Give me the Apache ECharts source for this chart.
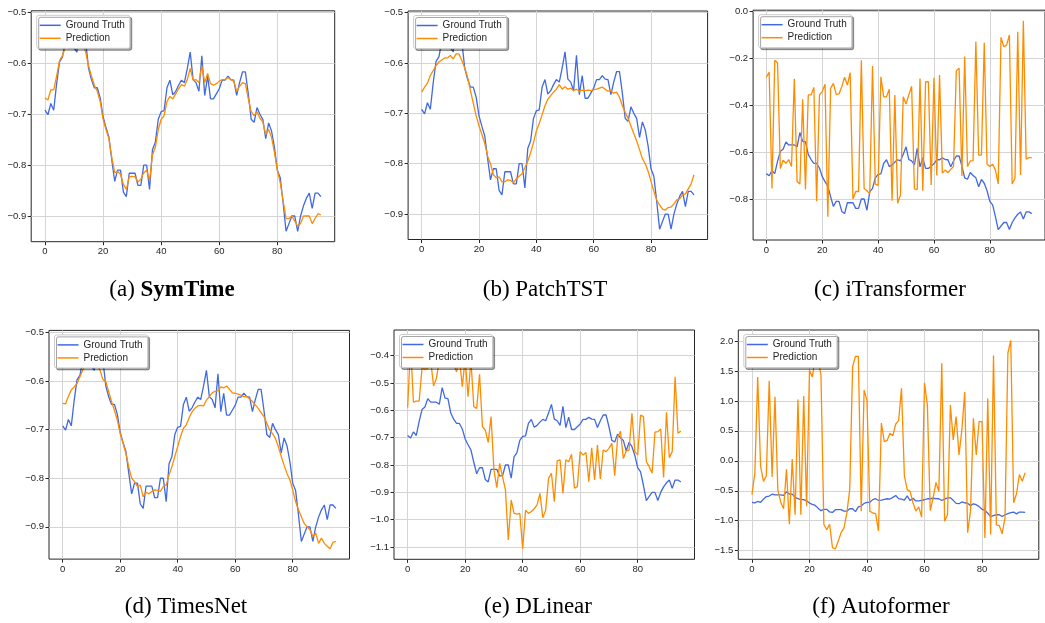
<!DOCTYPE html>
<html>
<head>
<meta charset="utf-8">
<script src="https://cdn.jsdelivr.net/npm/echarts@6/dist/echarts.min.js"></script>
<style>
html, body { margin: 0; padding: 0; background: #fff; }
#main { width: 1045px; height: 623px; }
</style>
</head>
<body>
<div id="main"></div>
<script>
// 时间步 0..95
var steps = [];
for (var i = 0; i < 96; i++) steps.push(i);

var xTicks = [0, 20, 40, 60, 80];

// 真实值（六个子图共用）
var groundTruth = [-0.692,-0.701,-0.679,-0.692,-0.64,-0.597,-0.588,-0.557,-0.57,-0.57,
    -0.57,-0.578,-0.517,-0.555,-0.557,-0.61,-0.632,-0.648,-0.648,-0.668,
    -0.705,-0.726,-0.745,-0.79,-0.832,-0.81,-0.81,-0.853,-0.862,-0.816,
    -0.816,-0.816,-0.84,-0.84,-0.8,-0.8,-0.848,-0.77,-0.755,-0.71,
    -0.695,-0.693,-0.648,-0.633,-0.662,-0.655,-0.643,-0.633,-0.638,-0.61,
    -0.578,-0.632,-0.638,-0.655,-0.585,-0.663,-0.625,-0.67,-0.67,-0.66,
    -0.65,-0.633,-0.633,-0.625,-0.632,-0.633,-0.663,-0.638,-0.617,-0.617,
    -0.66,-0.71,-0.716,-0.687,-0.7,-0.71,-0.748,-0.717,-0.733,-0.765,
    -0.81,-0.825,-0.875,-0.93,-0.915,-0.9,-0.9,-0.93,-0.9,-0.88,
    -0.865,-0.855,-0.885,-0.855,-0.855,-0.862];

var predSymTime = [-0.668,-0.672,-0.652,-0.652,-0.625,-0.595,-0.585,-0.568,-0.555,-0.55,
    -0.552,-0.556,-0.545,-0.56,-0.578,-0.605,-0.625,-0.643,-0.655,-0.675,
    -0.71,-0.73,-0.748,-0.785,-0.815,-0.812,-0.818,-0.838,-0.848,-0.823,
    -0.822,-0.823,-0.833,-0.828,-0.815,-0.81,-0.83,-0.78,-0.765,-0.73,
    -0.71,-0.703,-0.675,-0.665,-0.67,-0.66,-0.65,-0.642,-0.645,-0.632,
    -0.61,-0.633,-0.632,-0.638,-0.605,-0.638,-0.62,-0.64,-0.643,-0.64,
    -0.635,-0.632,-0.632,-0.628,-0.632,-0.635,-0.655,-0.645,-0.638,-0.64,
    -0.67,-0.695,-0.703,-0.695,-0.708,-0.715,-0.74,-0.73,-0.745,-0.775,
    -0.81,-0.835,-0.87,-0.905,-0.905,-0.9,-0.91,-0.92,-0.915,-0.9,
    -0.9,-0.9,-0.915,-0.905,-0.895,-0.898];

var predPatchTST = [-0.658,-0.648,-0.64,-0.625,-0.615,-0.605,-0.598,-0.594,-0.59,-0.59,
    -0.585,-0.592,-0.582,-0.582,-0.595,-0.61,-0.628,-0.655,-0.68,-0.705,
    -0.725,-0.742,-0.76,-0.785,-0.8,-0.822,-0.828,-0.826,-0.836,-0.836,
    -0.832,-0.833,-0.838,-0.83,-0.825,-0.82,-0.808,-0.795,-0.778,-0.758,
    -0.735,-0.72,-0.703,-0.685,-0.672,-0.665,-0.658,-0.652,-0.643,-0.652,
    -0.647,-0.652,-0.65,-0.655,-0.652,-0.656,-0.654,-0.655,-0.654,-0.655,
    -0.653,-0.652,-0.65,-0.648,-0.652,-0.656,-0.655,-0.66,-0.658,-0.668,
    -0.685,-0.698,-0.71,-0.725,-0.74,-0.755,-0.772,-0.79,-0.8,-0.815,
    -0.835,-0.855,-0.872,-0.882,-0.89,-0.892,-0.887,-0.886,-0.88,-0.872,
    -0.87,-0.862,-0.86,-0.85,-0.84,-0.822];

var predITransformer = [-0.282,-0.26,-0.755,-0.21,-0.22,-0.67,-0.635,-0.648,-0.632,-0.662,
    -0.288,-0.726,-0.736,-0.376,-0.76,-0.357,-0.357,-0.325,-0.81,-0.357,
    -0.343,-0.312,-0.875,-0.329,-0.308,-0.355,-0.353,-0.322,-0.282,-0.315,
    -0.262,-0.80,-0.768,-0.768,-0.21,-0.755,-0.765,-0.778,-0.234,-0.737,
    -0.742,-0.28,-0.365,-0.365,-0.333,-0.807,-0.357,-0.818,-0.783,-0.365,
    -0.396,-0.357,-0.32,-0.757,-0.76,-0.287,-0.765,-0.301,-0.301,-0.74,
    -0.284,-0.70,-0.272,-0.69,-0.677,-0.688,-0.674,-0.662,-0.254,-0.244,
    -0.702,-0.194,-0.662,-0.638,-0.637,-0.13,-0.613,-0.613,-0.135,-0.651,
    -0.662,-0.652,-0.677,-0.736,-0.112,-0.152,-0.145,-0.102,-0.736,-0.712,
    -0.088,-0.698,-0.041,-0.63,-0.624,-0.624];

var predTimesNet = [-0.646,-0.647,-0.631,-0.618,-0.612,-0.605,-0.591,-0.577,-0.565,-0.56,
    -0.556,-0.56,-0.565,-0.578,-0.597,-0.601,-0.622,-0.642,-0.66,-0.68,
    -0.708,-0.728,-0.749,-0.777,-0.80,-0.807,-0.817,-0.814,-0.838,-0.829,
    -0.832,-0.827,-0.824,-0.825,-0.827,-0.817,-0.814,-0.793,-0.776,-0.755,
    -0.735,-0.714,-0.697,-0.69,-0.675,-0.663,-0.656,-0.651,-0.65,-0.651,
    -0.639,-0.632,-0.624,-0.621,-0.62,-0.612,-0.614,-0.61,-0.617,-0.624,
    -0.625,-0.627,-0.629,-0.632,-0.632,-0.636,-0.642,-0.649,-0.656,-0.665,
    -0.673,-0.687,-0.701,-0.708,-0.718,-0.735,-0.755,-0.773,-0.79,-0.803,
    -0.824,-0.848,-0.865,-0.879,-0.893,-0.90,-0.906,-0.92,-0.913,-0.934,
    -0.923,-0.934,-0.94,-0.945,-0.932,-0.93];

var predDLinear = [-0.59,-0.36,-0.57,-0.566,-0.566,-0.444,-0.449,-0.446,-0.416,-0.511,
    -0.483,-0.416,-0.40,-0.38,-0.42,-0.40,-0.432,-0.459,-0.41,-0.513,
    -0.41,-0.55,-0.416,-0.587,-0.593,-0.468,-0.66,-0.672,-0.717,-0.623,
    -0.818,-0.883,-0.794,-0.843,-0.891,-1.074,-0.928,-0.977,-0.98,-0.977,
    -1.107,-0.965,-0.977,-0.97,-0.96,-0.946,-0.904,-0.993,-0.965,-0.849,
    -0.83,-0.934,-0.785,-0.781,-0.904,-0.781,-0.788,-0.761,-0.885,-0.879,
    -0.751,-0.763,-0.754,-0.861,-0.737,-0.855,-0.727,-0.851,-0.745,-0.751,
    -0.739,-0.721,-0.839,-0.702,-0.676,-0.776,-0.749,-0.745,-0.611,-0.751,
    -0.763,-0.617,-0.623,-0.788,-0.806,-0.83,-0.68,-0.678,-0.668,-0.846,
    -0.607,-0.773,-0.751,-0.477,-0.684,-0.676];

var predAutoformer = [-0.565,-0.205,1.40,-0.094,-0.343,-0.25,1.335,-0.27,1.07,-0.49,
    -0.69,-0.80,-0.14,-1.06,0.03,-0.90,1.025,-0.90,1.08,-0.76,
    1.51,1.40,1.72,1.70,1.43,-1.06,-1.15,-1.06,-1.45,-1.47,
    -1.34,-1.20,-1.12,-0.87,-0.48,1.57,1.745,1.745,-0.84,1.18,
    1.01,-0.84,-0.87,-0.88,-1.17,0.63,0.32,0.34,0.46,0.42,
    0.615,0.67,1.21,-0.25,-0.48,-0.51,-0.70,-0.84,-0.77,-0.94,
    1.30,0.93,-0.83,-0.62,-0.36,-0.51,1.63,-1.01,-0.90,0.93,
    0.35,0.74,0.10,0.52,1.15,-1.20,-0.84,0.71,0.10,0.655,
    0.655,-1.29,1.04,-1.23,1.76,-1.07,-1.08,-1.22,-0.95,1.80,
    2.01,-0.70,-0.55,-0.23,-0.34,-0.20];

// 各子图 y 轴刻度
var yTicksA = [-0.9, -0.8, -0.7, -0.6, -0.5];
var yTicksC = [-0.8, -0.6, -0.4, -0.2, 0.0];
var yTicksE = [-1.1, -1.0, -0.9, -0.8, -0.7, -0.6, -0.5, -0.4];
var yTicksF = [-1.5, -1.0, -0.5, 0.0, 0.5, 1.0, 1.5, 2.0];

var preds = [predSymTime, predPatchTST, predITransformer, predTimesNet, predDLinear, predAutoformer];
var yTicks = [yTicksA, yTicksA, yTicksC, yTicksA, yTicksE, yTicksF];

// 布局（像素）和坐标范围
var panels = [
    { left: 31.2, top: 10.8, width: 303.5, height: 230.9, ymin: -0.9505, ymax: -0.4968, tx: 172, ty: 290 },
    { left: 408.1, top: 11.0, width: 299.5, height: 228.5, ymin: -0.9505, ymax: -0.4968, tx: 545, ty: 290 },
    { left: 753.1, top: 10.2, width: 299.5, height: 229.8, ymin: -0.9745, ymax: 0.0035, tx: 890, ty: 290 },
    { left: 49.0, top: 330.4, width: 300.5, height: 228.7, ymin: -0.9664, ymax: -0.4956, tx: 186, ty: 607 },
    { left: 394.0, top: 330.0, width: 300.5, height: 229.3, ymin: -1.145, ymax: -0.306, tx: 538, ty: 607 },
    { left: 738.3, top: 330.0, width: 300.5, height: 229.3, ymin: -1.644, ymax: 2.184, tx: 881, ty: 607 }
];
var titles = ['(a) {b|SymTime}', '(b) PatchTST', '(c) iTransformer', '(d) TimesNet', '(e) DLinear', '(f) Autoformer'];

function pairs(arr) {
    var out = [];
    for (var i = 0; i < arr.length; i++) out.push([steps[i], arr[i]]);
    return out;
}

function fmt(v) {
    return v.toFixed(1).replace('-', '\u2212');
}

var myChart = echarts.init(document.getElementById('main'), null, { renderer: 'canvas' });

var grid = [], xAxis = [], yAxis = [], series = [], legend = [], graphic = [];
for (var k = 0; k < 6; k++) {
    var p = panels[k];
    grid.push({
        left: p.left, top: p.top, width: p.width, height: p.height,
        show: true, borderColor: '#262626', borderWidth: 1, backgroundColor: '#fff'
    });
    xAxis.push({
        type: 'value', gridIndex: k, min: -4.75, max: 99.75,
        axisLine: { show: false, onZero: false },
        axisTick: { show: true, length: 3.5, customValues: xTicks, lineStyle: { color: '#262626' } },
        axisLabel: { customValues: xTicks, margin: 5, color: '#262626', fontSize: 9.5, fontFamily: 'Liberation Sans' },
        splitLine: { show: true, lineStyle: { color: '#d4d4d4', width: 1 } }
    });
    yAxis.push({
        type: 'value', gridIndex: k, min: p.ymin, max: p.ymax,
        axisLine: { show: false, onZero: false },
        axisTick: { show: true, length: 3.5, customValues: yTicks[k], lineStyle: { color: '#262626' } },
        axisLabel: { customValues: yTicks[k], margin: 5, color: '#262626', fontSize: 9.5, fontFamily: 'Liberation Sans', formatter: fmt },
        splitLine: { show: true, lineStyle: { color: '#d4d4d4', width: 1 } }
    });
    series.push({
        name: 'Ground Truth', type: 'line', xAxisIndex: k, yAxisIndex: k,
        data: pairs(groundTruth), showSymbol: false, symbol: 'none',
        lineStyle: { color: '#4169e1', width: 1.3 }, itemStyle: { color: '#4169e1' }, z: 3
    });
    series.push({
        name: 'Prediction', type: 'line', xAxisIndex: k, yAxisIndex: k,
        data: pairs(preds[k]), showSymbol: false, symbol: 'none',
        lineStyle: { color: '#ff8c00', width: 1.3 }, itemStyle: { color: '#ff8c00' }, z: 4
    });
    legend.push({
        data: ['Ground Truth', 'Prediction'], orient: 'vertical',
        left: p.left + 5.5, top: p.top + 4.5,
        icon: 'rect', itemWidth: 21, itemHeight: 1.5, itemGap: 3,
        padding: [5, 5, 5, 3],
        backgroundColor: '#fff', borderColor: '#cccccc', borderWidth: 1, borderRadius: 2,
        shadowColor: 'rgba(0,0,0,0.35)', shadowOffsetX: 2, shadowOffsetY: 2, shadowBlur: 0,
        textStyle: { fontSize: 10, color: '#262626', fontFamily: 'Liberation Sans' },
        selectedMode: false, z: 10
    });
    graphic.push({
        type: 'text', x: p.tx, y: p.ty,
        style: {
            text: titles[k], fill: '#000', align: 'center', verticalAlign: 'middle',
            fontSize: 23, fontFamily: 'Liberation Serif',
            rich: { b: { fontWeight: 'bold', fontSize: 23, fontFamily: 'Liberation Serif', fill: '#000' } }
        }
    });
}

var option = {
    animation: false,
    backgroundColor: '#fff',
    grid: grid,
    xAxis: xAxis,
    yAxis: yAxis,
    legend: legend,
    series: series,
    graphic: graphic
};
myChart.setOption(option);
</script>
</body>
</html>
